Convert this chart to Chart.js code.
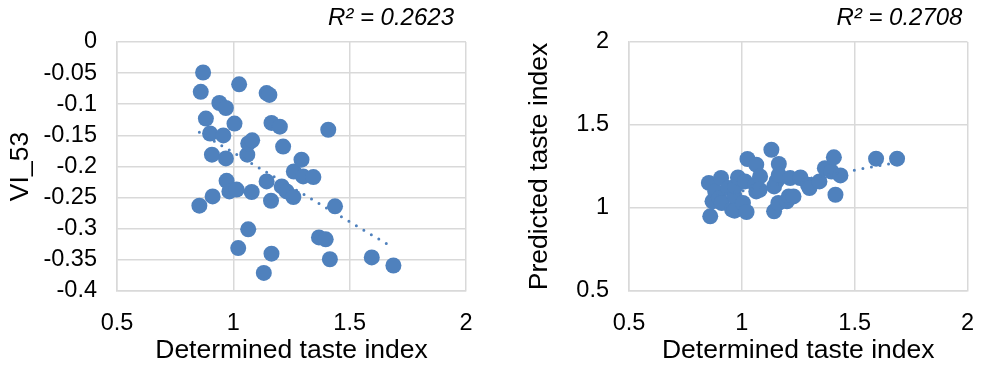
<!DOCTYPE html>
<html>
<head>
<meta charset="utf-8">
<script src="https://cdn.jsdelivr.net/npm/chart.js@4/dist/chart.umd.min.js"></script>
<style>
  body { margin: 0; background: #fff; }
  #wrap { position: relative; width: 992px; height: 367px; }
  canvas { position: absolute; top: 0; }
</style>
</head>
<body>
<div id="wrap">
  <canvas id="left" width="496" height="367" style="left:0"></canvas>
  <canvas id="right" width="496" height="367" style="left:496px"></canvas>
</div>
<script>
// determined taste index (x, shared by both panels)
const determined = [0.854, 0.86, 0.87, 0.882, 0.90, 0.908, 0.911, 0.94, 0.957, 0.968,
  0.968, 0.971, 0.983, 1.005, 1.014, 1.021, 1.025, 1.060, 1.064, 1.081,
  1.064, 1.079, 1.131, 1.143, 1.155, 1.143, 1.162, 1.164, 1.164, 1.20,
  1.208, 1.214, 1.229, 1.258, 1.26, 1.293, 1.30, 1.344, 1.368, 1.397,
  1.408, 1.415, 1.437, 1.595, 1.688];
// VI_53 (left panel)
const vi53 = [-0.263, -0.080, -0.049, -0.123, -0.147, -0.181, -0.248, -0.098, -0.150, -0.106,
  -0.187, -0.223, -0.240, -0.131, -0.237, -0.331, -0.068, -0.181, -0.163, -0.158,
  -0.301, -0.241, -0.371, -0.082, -0.085, -0.224, -0.255, -0.130, -0.340, -0.136,
  -0.232, -0.168, -0.240, -0.249, -0.208, -0.189, -0.216, -0.217, -0.314, -0.317,
  -0.141, -0.349, -0.264, -0.346, -0.359];
// predicted taste index (right panel)
const predicted = [1.151, 0.95, 1.04, 1.10, 1.06, 1.181, 1.03, 1.12, 0.99, 1.07,
  0.984, 1.13, 1.184, 1.03, 1.16, 0.976, 1.295, 1.14, 1.261, 1.19,
  1.10, 1.11, 1.351, 0.98, 1.164, 1.13, 1.03, 1.265, 1.20, 1.04,
  1.07, 1.18, 1.07, 1.18, 1.184, 1.14, 1.12, 1.16, 1.24, 1.22,
  1.305, 1.08, 1.196, 1.297, 1.297];

const xTicks = [0.5, 1, 1.5, 2];
const vi53Ticks = [0, -0.05, -0.1, -0.15, -0.2, -0.25, -0.3, -0.35, -0.4];
const predTicks = [0.5, 1, 1.5, 2];
const r2Text = ['R² = 0.2623', 'R² = 0.2708'];

const blue = '#4f81bd';
const gridColor = '#d9d9d9';
const font = '"Liberation Sans", Arial, sans-serif';

// least squares trendline over the data range
function trend(xs, ys) {
  const n = xs.length;
  const mx = xs.reduce((a, b) => a + b, 0) / n;
  const my = ys.reduce((a, b) => a + b, 0) / n;
  let sxy = 0, sxx = 0;
  for (let i = 0; i < n; i++) {
    sxy += (xs[i] - mx) * (ys[i] - my);
    sxx += (xs[i] - mx) * (xs[i] - mx);
  }
  const b = sxy / sxx, a = my - b * mx;
  const lo = Math.min(...xs), hi = Math.max(...xs);
  return [{ x: lo, y: a + b * lo }, { x: hi, y: a + b * hi }];
}

const r2Plugin = {
  id: 'r2label',
  afterDraw(chart, args, o) {
    const ctx = chart.ctx;
    ctx.save();
    ctx.font = 'italic 24px ' + font;
    ctx.fillStyle = '#000';
    ctx.textAlign = 'right';
    ctx.textBaseline = 'alphabetic';
    ctx.fillText(o.text, chart.chartArea.right - o.inset, 25);
    ctx.restore();
  }
};

function makeChart(id, ys, yTicks, yTitle, yWidth, padRight, titlePad, inset, text) {
  const pts = determined.map((x, i) => ({ x: x, y: ys[i] }));
  new Chart(document.getElementById(id), {
    type: 'scatter',
    data: {
      datasets: [
        {
          type: 'line',
          data: trend(determined, ys),
          borderColor: blue,
          borderWidth: 3,
          borderDash: [0, 8.7],
          borderCapStyle: 'round',
          pointRadius: 0,
          fill: false
        },
        {
          data: pts,
          backgroundColor: blue,
          borderWidth: 0,
          pointRadius: 8,
          pointHoverRadius: 8
        }
      ]
    },
    options: {
      responsive: false,
      animation: false,
      events: [],
      layout: { padding: { top: 42, right: padRight, bottom: 0, left: 0 } },
      plugins: {
        legend: { display: false },
        tooltip: { enabled: false },
        r2label: { text: text, inset: inset }
      },
      scales: {
        x: {
          type: 'linear',
          min: xTicks[0],
          max: xTicks[xTicks.length - 1],
          afterBuildTicks: s => { s.ticks = xTicks.map(v => ({ value: v })); },
          afterFit: s => { s.height = 76; },
          grid: { color: gridColor, lineWidth: 1.5, drawTicks: false },
          border: { color: gridColor, width: 1.5 },
          ticks: { color: '#000', padding: 18, autoSkip: false, maxRotation: 0, font: { family: font, size: 23.5 }, callback: v => String(v) },
          title: { display: true, text: 'Determined taste index', color: '#000', font: { family: font, size: 26.5 }, padding: 0 }
        },
        y: {
          type: 'linear',
          min: Math.min(...yTicks),
          max: Math.max(...yTicks),
          afterBuildTicks: s => { s.ticks = yTicks.slice().sort((a, b) => a - b).map(v => ({ value: v })); },
          afterFit: s => { s.width = yWidth; },
          grid: { color: gridColor, lineWidth: 1.5, drawTicks: false },
          border: { color: gridColor, width: 1.5 },
          ticks: { color: '#000', padding: 20, autoSkip: false, font: { family: font, size: 23.5 }, callback: v => String(v) },
          title: { display: true, text: yTitle, color: '#000', font: { family: font, size: 26.5 }, padding: { top: titlePad, bottom: 0 } }
        }
      }
    },
    plugins: [r2Plugin]
  });
}

makeChart('left', vi53, vi53Ticks, 'VI_53', 117, 30, 5, 12, r2Text[0]);
makeChart('right', predicted, predTicks, 'Predicted taste index', 133, 10, 28, 5, r2Text[1]);
</script>
</body>
</html>
